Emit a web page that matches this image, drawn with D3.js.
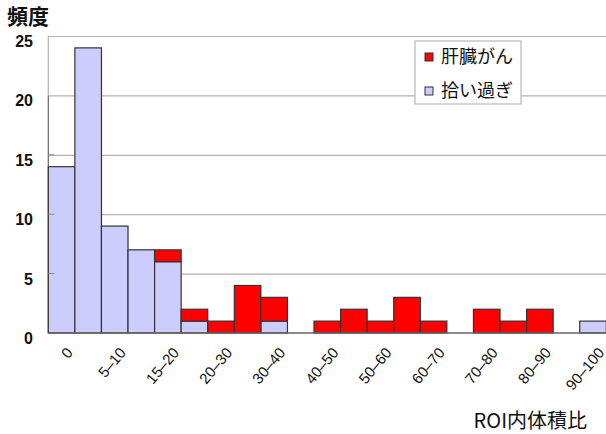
<!DOCTYPE html>
<html>
<head>
<meta charset="utf-8">
<script src="https://cdn.jsdelivr.net/npm/d3@7"></script>
<style>
  body { margin: 0; background: #fff; }
  svg { display: block; }
  .num { font-family: "Liberation Sans", Arial, sans-serif; }
  .jp { font-family: "Noto Sans CJK JP", sans-serif; }
</style>
</head>
<body>
<div id="chart"></div>
<script>
// bins of ROI volume ratio (every other one is labeled)
var tickLabels = ["0","","5–10","","15–20","","20–30","","30–40","","40–50","","50–60","","60–70","","70–80","","80–90","","90–100"];
var overCount = [14,24,9,7,6,1,0,0,1,0,0,0,0,0,0,0,0,0,0,0,1];   // 拾い過ぎ
var cancerCount = [0,0,0,0,1,1,1,4,2,0,1,2,1,3,1,0,2,1,2,0,0]; // 肝臓がん
var yTicks = [0,5,10,15,20,25];
var seriesNames = ["肝臓がん","拾い過ぎ"];
var seriesColors = ["#ff0000","#ccccff"];

function drawChart(){
  var W = 606, H = 434;
  var pLeft = 48.3, pRight = 606.3, pTop = 36, pBottom = 333;

  var svg = d3.select("#chart").append("svg")
      .attr("width", W)
      .attr("height", H);

  var x = d3.scaleBand().domain(d3.range(tickLabels.length)).range([pLeft, pRight]).padding(0);
  var y = d3.scaleLinear().domain([0, 25]).range([pBottom, pTop]);

  // gridlines
  svg.append("g")
      .attr("transform", "translate(" + pLeft + ",0)")
      .call(d3.axisLeft(y).tickValues(yTicks.slice(1)).tickSize(-(pRight - pLeft)).tickFormat(""))
      .call(function(g){
        g.select(".domain").remove();
        g.selectAll("line").attr("stroke", "#b4b4b4").attr("stroke-width", 1.2);
      });

  // left frame (light above 20, darker below)
  svg.append("line").attr("x1", pLeft).attr("x2", pLeft).attr("y1", y(25)).attr("y2", y(20))
      .attr("stroke", "#b4b4b4").attr("stroke-width", 1.2);
  svg.append("line").attr("x1", pLeft).attr("x2", pLeft).attr("y1", y(20)).attr("y2", y(0))
      .attr("stroke", "#666").attr("stroke-width", 1.2);

  // stacked bars
  var stackData = tickLabels.map(function(d, i){ return {i: i, over: overCount[i], cancer: cancerCount[i]}; });

  var g = svg.append("g");
  g.selectAll(".barOver")
      .data(stackData.filter(function(d){ return d.over > 0; }))
      .enter().append("rect")
      .attr("class", "barOver")
      .attr("x", function(d){ return x(d.i); })
      .attr("width", x.bandwidth())
      .attr("y", function(d){ return y(d.over); })
      .attr("height", function(d){ return y(0) - y(d.over); })
      .attr("fill", seriesColors[1])
      .attr("stroke", "#333")
      .attr("stroke-width", 1.2);

  g.selectAll(".barCancer")
      .data(stackData.filter(function(d){ return d.cancer > 0; }))
      .enter().append("rect")
      .attr("class", "barCancer")
      .attr("x", function(d){ return x(d.i); })
      .attr("width", x.bandwidth())
      .attr("y", function(d){ return y(d.over + d.cancer); })
      .attr("height", function(d){ return y(d.over) - y(d.over + d.cancer); })
      .attr("fill", seriesColors[0])
      .attr("stroke", "#333")
      .attr("stroke-width", 1.2);

  // small y tick marks
  svg.selectAll(".ytick")
      .data(yTicks.slice(1, 4))
      .enter().append("line")
      .attr("x1", pLeft).attr("x2", pLeft + 6)
      .attr("y1", function(d){ return y(d); }).attr("y2", function(d){ return y(d); })
      .attr("stroke", "#888").attr("stroke-width", 1);

  // bottom axis line
  svg.append("line").attr("x1", pLeft).attr("x2", pRight).attr("y1", pBottom).attr("y2", pBottom)
      .attr("stroke", "#666").attr("stroke-width", 1.5);

  // y labels
  svg.selectAll(".ylab")
      .data(yTicks)
      .enter().append("text")
      .attr("class", "num")
      .attr("x", 33)
      .attr("y", function(d){ return y(d) + 11; })
      .attr("text-anchor", "end")
      .attr("font-size", 16)
      .attr("font-weight", "bold")
      .attr("fill", "#111")
      .text(function(d){ return d; });

  // x labels
  svg.selectAll(".xlab")
      .data(stackData.filter(function(d){ return tickLabels[d.i] !== ""; }))
      .enter().append("text")
      .attr("class", "num")
      .attr("text-anchor", "end")
      .attr("font-size", 15)
      .attr("fill", "#111")
      .attr("transform", function(d){
        return "translate(" + (x(d.i) + x.bandwidth() / 2 + 12) + "," + 353 + ") rotate(-50)";
      })
      .text(function(d){ return tickLabels[d.i]; });

  // titles
  svg.append("text").attr("class", "jp")
      .attr("x", 7).attr("y", 24)
      .attr("font-size", 21).attr("font-weight", "bold").attr("fill", "#111")
      .text("頻度");

  svg.append("text").attr("class", "jp")
      .attr("x", 587).attr("y", 428)
      .attr("text-anchor", "end")
      .attr("font-size", 20).attr("fill", "#111")
      .text("ROI内体積比");

  // legend
  var lg = svg.append("g").attr("transform", "translate(415,41)");
  lg.append("rect").attr("width", 106).attr("height", 63)
      .attr("fill", "#fff").attr("stroke", "#aaa").attr("stroke-width", 1);
  var items = lg.selectAll(".item").data(seriesNames).enter().append("g")
      .attr("transform", function(d, i){ return "translate(10," + (12 + i * 34) + ")"; });
  items.append("rect").attr("width", 8).attr("height", 8)
      .attr("fill", function(d, i){ return seriesColors[i]; })
      .attr("stroke", "#333").attr("stroke-width", 1);
  items.append("text").attr("class", "jp")
      .attr("x", 16).attr("y", 10)
      .attr("font-size", 18).attr("fill", "#111")
      .text(function(d){ return d; });
}
drawChart();
</script>
</body>
</html>
